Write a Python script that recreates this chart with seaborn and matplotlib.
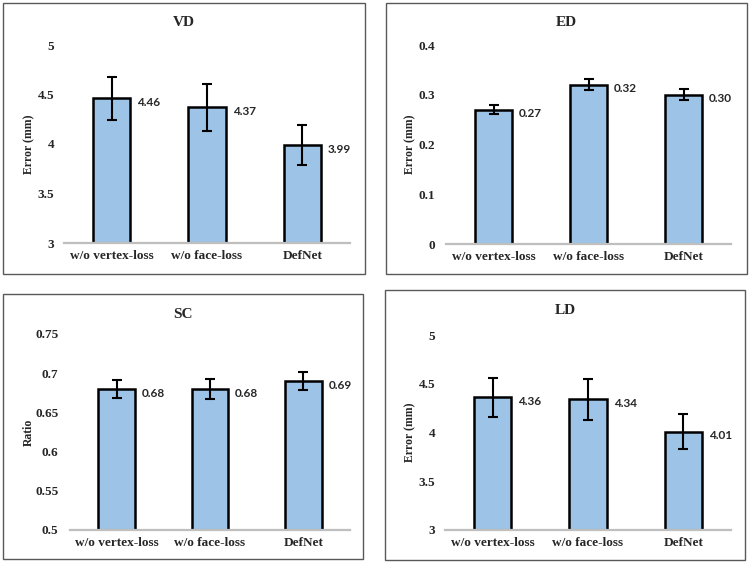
import numpy as np
import matplotlib
matplotlib.use("Agg")
import matplotlib.pyplot as plt
from matplotlib.patches import Rectangle
import seaborn as sns

sns.set_style("white")
plt.rcParams["font.family"] = ["Liberation Serif", "DejaVu Serif"]
plt.rcParams["font.weight"] = "bold"

categories = ["w/o vertex-loss", "w/o face-loss", "DefNet"]

vd_vals = [4.46, 4.37, 3.99]
vd_err = [0.22, 0.24, 0.20]
vd_ticks = [3, 3.5, 4, 4.5, 5]

ed_vals = [0.27, 0.32, 0.30]
ed_err = [0.009, 0.011, 0.011]
ed_ticks = [0, 0.1, 0.2, 0.3, 0.4]

sc_vals = [0.68, 0.68, 0.69]
sc_err = [0.011, 0.013, 0.012]
sc_ticks = [0.5, 0.55, 0.6, 0.65, 0.7, 0.75]

ld_vals = [4.36, 4.34, 4.01]
ld_err = [0.20, 0.21, 0.18]
ld_ticks = [3, 3.5, 4, 4.5, 5]

titles = ["VD", "ED", "SC", "LD"]
ylabels = ["Error (mm)", "Error (mm)", "Ratio", "Error (mm)"]

W, H = 750, 564
BLUE = "#9dc3e6"

# layout in pixels: panel frame, plot area, y-label x, tick pad
frames = [(3, 3, 365, 274), (386, 3, 747, 274), (3, 294, 363, 559), (385, 290, 745, 560)]
plots = [(64, 45, 350, 243), (446, 45, 731, 244), (70, 334, 350, 530), (445, 335, 731, 530)]
ylab_x = [29, 410, 29, 410]
tick_pad = [7, 8, 8.3, 7.2]


def px_box(l, t, r, b):
    return [l / W, 1 - b / H, (r - l) / W, (b - t) / H]


fig = plt.figure(figsize=(7.5, 5.64), dpi=100)

panels = [(vd_vals, vd_err, vd_ticks), (ed_vals, ed_err, ed_ticks),
          (sc_vals, sc_err, sc_ticks), (ld_vals, ld_err, ld_ticks)]

for i, (vals, errs, ticks) in enumerate(panels):
    fl, ft, fr, fb = frames[i]
    fig.patches.append(Rectangle((fl / W, 1 - fb / H), (fr - fl) / W, (fb - ft) / H,
                                 transform=fig.transFigure, fill=False,
                                 edgecolor="#595959", linewidth=1.0))
    ax = fig.add_axes(px_box(*plots[i]))
    sns.barplot(x=categories, y=vals, color=BLUE, saturation=1, edgecolor="black",
                linewidth=1.8, width=0.39, ax=ax)
    xs = [p.get_x() + p.get_width() / 2 for p in ax.patches]
    ax.errorbar(xs, vals, yerr=errs, fmt="none", ecolor="black", elinewidth=1.5,
                capsize=3.5, capthick=1.5, zorder=5)
    for p, v in zip(ax.patches, vals):
        ax.annotate(f"{v:.2f}", xy=(p.get_x() + p.get_width(), v), xytext=(5, -3),
                    textcoords="offset points", ha="left", va="center",
                    fontfamily="Lato", fontweight="bold", fontsize=8.5)
    ax.set_xlim(-0.5, 2.5)
    ax.set_ylim(ticks[0], ticks[-1])
    ax.set_yticks(ticks)
    ax.set_yticklabels([f"{t:g}" for t in ticks])
    ax.set_xlabel("")
    ax.set_ylabel("")
    for s in ["left", "top", "right"]:
        ax.spines[s].set_visible(False)
    ax.spines["bottom"].set_color("#bfbfbf")
    ax.spines["bottom"].set_linewidth(1.6)
    ax.tick_params(axis="y", length=0, labelsize=9.5, pad=tick_pad[i])
    ax.tick_params(axis="x", length=0, labelsize=9.5, pad=5)

    pl, pt, pr, pb = plots[i]
    fig.text((fl + fr) / 2 / W, 1 - (ft + 20) / H, titles[i], ha="center", va="center",
             fontsize=11, fontweight="bold")
    fig.text(ylab_x[i] / W, 1 - (pt + pb) / 2 / H, ylabels[i], rotation=90,
             ha="center", va="center", fontsize=8.5, fontweight="bold")

fig.savefig("out.png", dpi=100)
